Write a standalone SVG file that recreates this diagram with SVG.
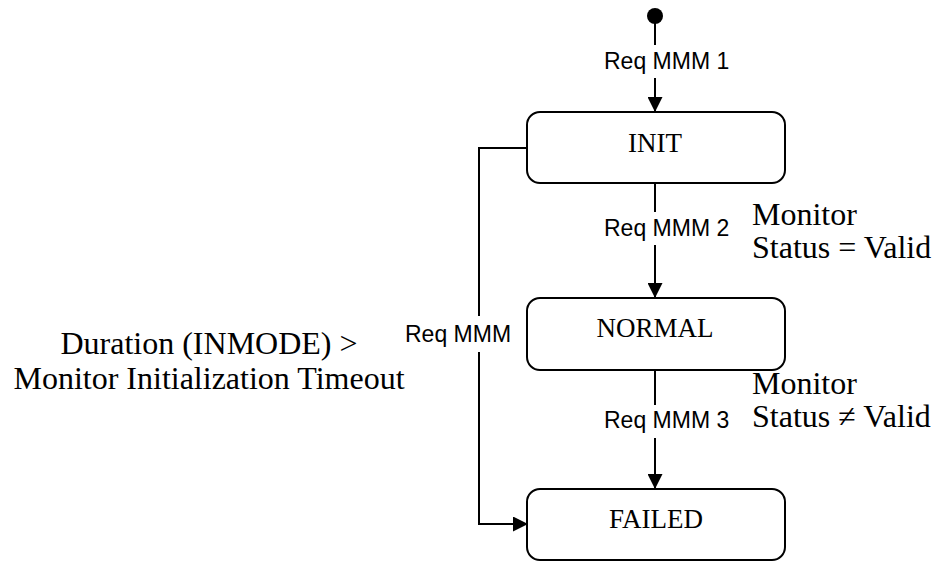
<svg xmlns="http://www.w3.org/2000/svg" width="937" height="561" viewBox="0 0 937 561">
<defs>
<marker id="arr" markerWidth="15" markerHeight="15" refX="15" refY="7.5" orient="auto" markerUnits="userSpaceOnUse">
<path d="M0,0 L15,7.5 L0,15 Z" fill="#000"/>
</marker>
<style>
.box{fill:#fff;stroke:#000;stroke-width:2}
.ln{fill:none;stroke:#000;stroke-width:2}
.st{font-family:"Liberation Serif","Times New Roman",serif;font-size:27px;fill:#000;text-anchor:middle}
.lbl{font-family:"Liberation Sans",Arial,sans-serif;font-size:23px;fill:#000}
.cond{font-family:"Liberation Serif","Times New Roman",serif;font-size:32px;fill:#000}
</style>
</defs>
<rect width="937" height="561" fill="#fff"/>
<g id="connectors">
<circle cx="655" cy="16" r="8" fill="#000"/>
<path class="ln" d="M655,16 V45"/>
<path class="ln" d="M655,78 V112" marker-end="url(#arr)"/>
<path class="ln" d="M655,183 V212"/>
<path class="ln" d="M655,245 V298" marker-end="url(#arr)"/>
<path class="ln" d="M655,370 V405"/>
<path class="ln" d="M655,438 V489" marker-end="url(#arr)"/>
<path class="ln" d="M527,148 H479 V316"/>
<path class="ln" d="M479,352 V524 H528" marker-end="url(#arr)"/>
<text class="lbl" x="604" y="69">Req MMM 1</text>
<text class="lbl" x="604" y="236">Req MMM 2</text>
<text class="lbl" x="604" y="428">Req MMM 3</text>
<text class="lbl" x="405" y="342">Req MMM</text>
</g>
<g id="init">
<rect class="box" x="527" y="112" width="258" height="71" rx="13"/>
<text class="st" x="655" y="152">INIT</text>
</g>
<g id="normal">
<rect class="box" x="527" y="298" width="258" height="72" rx="13"/>
<text class="st" x="655" y="337">NORMAL</text>
</g>
<g id="failed">
<rect class="box" x="527" y="489" width="258" height="71" rx="13"/>
<text class="st" x="656" y="528">FAILED</text>
</g>
<g id="conditions">
<text class="cond" x="752" y="225">Monitor</text>
<text class="cond" x="752" y="258">Status = Valid</text>
<text class="cond" x="752" y="394">Monitor</text>
<text class="cond" x="752" y="427">Status ≠ Valid</text>
<text class="cond" x="209" y="354" text-anchor="middle">Duration (INMODE) &gt;</text>
<text class="cond" x="209" y="389" text-anchor="middle">Monitor Initialization Timeout</text>
</g>
</svg>
